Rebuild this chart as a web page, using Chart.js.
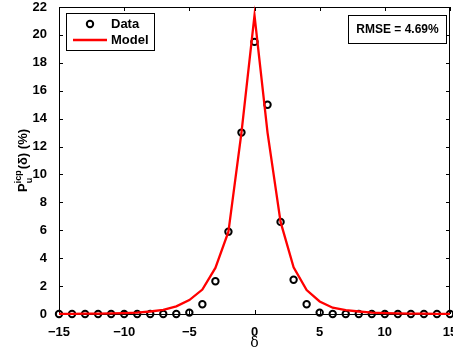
<!DOCTYPE html>
<html>
<head>
<meta charset="utf-8">
<script src="https://cdn.jsdelivr.net/npm/chart.js@4.4.1/dist/chart.umd.min.js"></script>
<style>
  body { margin: 0; background: #fff; }
  canvas { display: block; }
</style>
</head>
<body>
<canvas id="myChart" width="453" height="352"></canvas>
<script>
// delta values (x)
const deltas = [-15,-14,-13,-12,-11,-10,-9,-8,-7,-6,-5,-4,-3,-2,-1,0,1,2,3,4,5,6,7,8,9,10,11,12,13,14,15];
// measured distribution (%)
const dataY = [0,0,0,0,0,0,0,0,0,0,0.1,0.7,2.35,5.9,13.0,19.5,15.0,6.6,2.45,0.7,0.1,0,0,0,0,0,0,0,0,0,0];
// model curve (%)
const modelY = [0.01,0.01,0.02,0.03,0.04,0.06,0.1,0.18,0.3,0.55,1.0,1.75,3.3,5.9,13.0,21.4,13.0,6.6,3.35,1.72,0.9,0.45,0.28,0.18,0.1,0.06,0.04,0.03,0.02,0.01,0.01];
const rmseText = 'RMSE = 4.69%';
const legendLabels = ['Data', 'Model'];

const FONT = '"Liberation Sans", Arial, sans-serif';

function toPoints(ys){
  return deltas.map(function(d, i){ return {x: d, y: ys[i]}; });
}

const data = {
  datasets: [
    {
      label: legendLabels[0],
      data: toPoints(dataY),
      showLine: false,
      borderColor: '#000',
      backgroundColor: 'rgba(0,0,0,0)',
      pointRadius: 3.2,
      pointBorderWidth: 2,
      pointHoverRadius: 3.2,
      clip: false,
      order: 1
    },
    {
      label: legendLabels[1],
      data: toPoints(modelY),
      showLine: true,
      borderColor: 'rgb(255,0,0)',
      borderWidth: 2.3,
      pointRadius: 0,
      tension: 0,
      clip: false,
      order: 0
    }
  ]
};

// box, inward ticks, legend, rmse box, y title
const decorations = {
  id: 'decorations',
  beforeDatasetsDraw(chart){
    const ctx = chart.ctx;
    const a = chart.chartArea;
    const xs = chart.scales.x, ys = chart.scales.y;
    ctx.save();
    ctx.strokeStyle = '#000';
    ctx.lineWidth = 1;
    ctx.strokeRect(a.left + 0.5, a.top + 0.5, a.right - a.left - 1, a.bottom - a.top);
    ctx.beginPath();
    const tl = 4;
    xs.ticks.forEach(function(t){
      const px = Math.round(xs.getPixelForValue(t.value)) + 0.5;
      ctx.moveTo(px, a.bottom); ctx.lineTo(px, a.bottom - tl);
      ctx.moveTo(px, a.top); ctx.lineTo(px, a.top + tl);
    });
    ys.ticks.forEach(function(t){
      const py = Math.round(ys.getPixelForValue(t.value)) + 0.5;
      ctx.moveTo(a.left, py); ctx.lineTo(a.left + tl, py);
      ctx.moveTo(a.right, py); ctx.lineTo(a.right - tl, py);
    });
    ctx.stroke();
    ctx.restore();
  },
  afterDraw(chart){
    const ctx = chart.ctx;
    const a = chart.chartArea;
    ctx.save();
    // legend
    ctx.fillStyle = '#fff';
    ctx.fillRect(66, 13, 88, 37);
    ctx.strokeStyle = '#000';
    ctx.lineWidth = 1;
    ctx.strokeRect(66.5, 13.5, 88, 37);
    ctx.beginPath();
    ctx.lineWidth = 2;
    ctx.arc(90, 24, 3.2, 0, Math.PI * 2);
    ctx.stroke();
    ctx.beginPath();
    ctx.strokeStyle = 'rgb(255,0,0)';
    ctx.lineWidth = 2.5;
    ctx.moveTo(73, 40); ctx.lineTo(107, 40);
    ctx.stroke();
    ctx.fillStyle = '#000';
    ctx.font = 'bold 13px ' + FONT;
    ctx.textAlign = 'left';
    ctx.textBaseline = 'middle';
    ctx.fillText(legendLabels[0], 111, 24);
    ctx.fillText(legendLabels[1], 111, 40);

    // rmse box
    ctx.fillStyle = '#fff';
    ctx.fillRect(348, 15, 99, 28);
    ctx.strokeStyle = '#000';
    ctx.lineWidth = 1;
    ctx.strokeRect(348.5, 15.5, 98, 28);
    ctx.fillStyle = '#000';
    ctx.font = 'bold 12px ' + FONT;
    ctx.textAlign = 'center';
    ctx.fillText(rmseText, 397.5, 30);

    // y title: P_u^icp(δ) (%)
    ctx.translate(27, (a.top + a.bottom) / 2);
    ctx.rotate(-Math.PI / 2);
    ctx.textBaseline = 'alphabetic';
    ctx.textAlign = 'left';
    const big = 'bold 13px ' + FONT, small = 'bold 9px ' + FONT;
    ctx.font = big; const wP = ctx.measureText('P').width;
    ctx.font = small;
    const wSup = ctx.measureText('icp').width, wSub = ctx.measureText('u').width;
    ctx.font = big; const wRest = ctx.measureText('(\u03b4) (%)').width;
    const total = wP + Math.max(wSup, wSub) + 1 + wRest;
    let x0 = -total / 2;
    ctx.font = big;
    ctx.fillText('P', x0, 0);
    x0 += wP;
    ctx.font = small;
    ctx.fillText('icp', x0, -6);
    ctx.fillText('u', x0, 5);
    x0 += Math.max(wSup, wSub) + 1;
    ctx.font = big;
    ctx.fillText('(\u03b4) (%)', x0, 0);
    ctx.restore();
  }
};

const config = {
  type: 'scatter',
  data: data,
  options: {
    responsive: false,
    animation: false,
    devicePixelRatio: 1,
    layout: { autoPadding: false, padding: { top: 7, right: 3, left: 0, bottom: 0 } },
    plugins: {
      legend: { display: false },
      tooltip: { enabled: false }
    },
    scales: {
      x: {
        type: 'linear',
        min: -15,
        max: 15,
        grid: { display: false },
        border: { display: false },
        ticks: {
          stepSize: 5,
          padding: 3,
          color: '#000',
          font: { family: FONT, size: 13, weight: 'bold' },
          maxRotation: 0,
          callback: function(v){ return String(v).replace('-', '\u2212'); }
        },
        title: {
          display: true,
          text: '\u03b4',
          color: '#000',
          font: { family: '"DejaVu Serif", serif', size: 14 },
          padding: { top: 0, bottom: 0 }
        },
        afterFit: function(s){ s.height = 38; s.paddingLeft = 0; s.paddingRight = 0; }
      },
      y: {
        min: 0,
        max: 22,
        grid: { display: false },
        border: { display: false },
        ticks: {
          stepSize: 2,
          padding: 4,
          color: '#000',
          font: { family: FONT, size: 13, weight: 'bold' }
        },
        afterFit: function(s){ s.width = 59; s.paddingTop = 0; s.paddingBottom = 0; }
      }
    }
  },
  plugins: [decorations]
};

var myChart = new Chart(document.getElementById('myChart'), config);
</script>
</body>
</html>
